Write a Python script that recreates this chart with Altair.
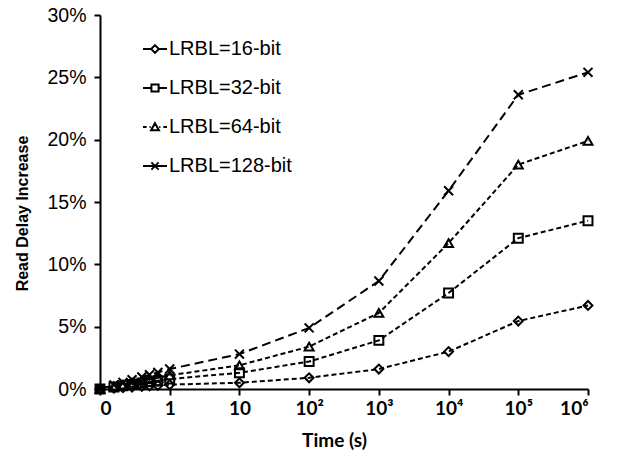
import altair as alt
import pandas as pd

series = ["LRBL=16-bit", "LRBL=32-bit", "LRBL=64-bit", "LRBL=128-bit"]
# x positions on the (evenly spaced) time axis: 0, sub-second points, 1, 10, ..., 10^6
positions = [0, 0.2, 0.33, 0.46, 0.6, 0.71, 0.83, 1, 2, 3, 4, 5, 6, 7]
tick_labels = ["0", "1", "10", "10²", "10³", "10⁴", "10⁵", "10⁶"]

v16 = [0, 0.07, 0.12, 0.16, 0.21, 0.25, 0.29, 0.35, 0.5, 0.9, 1.6, 3.0, 5.45, 6.7]
v32 = [0, 0.16, 0.26, 0.37, 0.48, 0.57, 0.66, 0.8, 1.3, 2.2, 3.9, 7.7, 12.1, 13.5]
v64 = [0, 0.22, 0.36, 0.5, 0.66, 0.78, 0.91, 1.1, 1.9, 3.4, 6.1, 11.7, 18.0, 19.9]
v128 = [0, 0.32, 0.53, 0.74, 0.96, 1.14, 1.33, 1.6, 2.8, 4.9, 8.66, 15.9, 23.6, 25.4]

rows = []
for name, vals in zip(series, [v16, v32, v64, v128]):
    for p, v in zip(positions, vals):
        rows.append({"series": name, "pos": p, "value": v / 100.0})
df = pd.DataFrame(rows)

point_shapes = ["diamond", "square", "triangle-up", "M-1,-1L1,1M-1,1L1,-1"]
legend_shapes = [
    "M-1,0L-0.32,0M0.32,0L1,0M0,-0.32L0.32,0L0,0.32L-0.32,0Z",
    "M-1,0L-0.3,0M0.3,0L1,0M-0.3,-0.3L0.3,-0.3L0.3,0.3L-0.3,0.3Z",
    "M-1,0L-0.7,0M-0.45,0L-0.35,0M0.35,0L0.45,0M0.7,0L1,0M0,-0.32L0.33,0.28L-0.33,0.28Z",
    "M-1,0L1,0M-0.3,-0.3L0.3,0.3M-0.3,0.3L0.3,-0.3",
]
dashes = [[5, 3], [5, 3], [5, 3], [9, 5]]

label_expr = "[" + ",".join("'" + t + "'" for t in tick_labels) + "][datum.value]"

x = alt.X(
    "pos:Q",
    scale=alt.Scale(domain=[0, 7], nice=False, zero=False),
    axis=alt.Axis(
        values=list(range(8)),
        labelExpr=label_expr,
        title="Time (s)",
        grid=False,
        domainColor="black",
        domainWidth=2,
        tickColor="black",
        tickWidth=2,
        tickSize=6,
        labelFont="Lato",
        labelFontWeight="bold",
        labelFontSize=19,
        labelColor="black",
        labelPadding=4,
        titleFont="Lato",
        titleFontWeight="bold",
        titleFontSize=19,
        titleColor="black",
        titleX=234,
        titleY=51,
        titleBaseline="middle",
    ),
)
y = alt.Y(
    "value:Q",
    scale=alt.Scale(domain=[0, 0.30], nice=False),
    axis=alt.Axis(
        values=[0, 0.05, 0.10, 0.15, 0.20, 0.25, 0.30],
        format=".0%",
        title="Read Delay Increase",
        grid=False,
        domainColor="black",
        domainWidth=2,
        tickColor="black",
        tickWidth=2,
        tickSize=6,
        labelFont="Liberation Sans",
        labelFontSize=19.5,
        labelColor="black",
        labelPadding=8,
        titleFont="Liberation Sans",
        titleFontWeight="bold",
        titleFontSize=16,
        titleColor="black",
        titleAngle=-90,
        titleX=-78,
        titleY=198,
        titleAlign="center",
        titleBaseline="middle",
    ),
)

base = alt.Chart(df)

lines = base.mark_line(color="black", strokeWidth=2).encode(
    x=x,
    y=y,
    detail="series:N",
    strokeDash=alt.StrokeDash(
        "series:N",
        scale=alt.Scale(domain=series, range=dashes),
        legend=None,
    ),
)

points = base.mark_point(filled=False, color="black", strokeWidth=2, size=80, opacity=1).encode(
    x="pos:Q",
    y="value:Q",
    shape=alt.Shape(
        "series:N",
        scale=alt.Scale(domain=series, range=point_shapes),
        legend=None,
    ),
)

legend_layer = base.mark_point(filled=False, color="black", opacity=0).encode(
    x="pos:Q",
    y="value:Q",
    shape=alt.Shape(
        "series:N",
        scale=alt.Scale(domain=series, range=legend_shapes),
        legend=alt.Legend(
            title=None,
            orient="none",
            legendX=42,
            legendY=21,
            symbolSize=576,
            symbolStrokeWidth=2,
            symbolStrokeColor="black",
            symbolOpacity=1,
            symbolFillColor="transparent",
            labelFont="Liberation Sans",
            labelFontSize=20,
            labelColor="black",
            labelOffset=1,
            labelLimit=300,
            rowPadding=16,
            padding=0,
        ),
    ),
)

chart = (
    alt.layer(lines, points, legend_layer)
    .resolve_scale(shape="independent")
    .properties(
        width=488,
        height=374,
        autosize=alt.AutoSizeParams(type="none"),
        padding={"left": 100, "top": 15, "right": 34, "bottom": 64},
        background="white",
    )
    .configure_view(stroke=None)
)

chart.save("out.html", embed_options={"renderer": "svg", "actions": False})
